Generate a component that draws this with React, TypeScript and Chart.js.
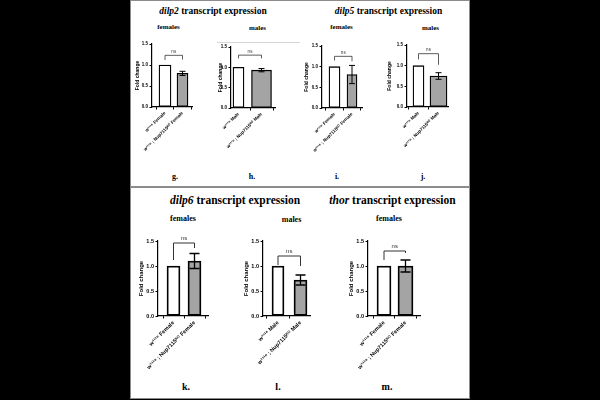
import React, { useEffect, useRef } from 'react';
import { Chart, registerables } from 'chart.js';
Chart.register(...registerables);

// ---------------- data ----------------
const panelLetters = ['g.', 'h.', 'i.', 'j.', 'k.', 'l.', 'm.'];
const sexes = ['Female', 'Male', 'Female', 'Male', 'Female', 'Male', 'Female'];
const controlGenotype = 'w¹¹¹⁸';
const mutantGenotype = 'w¹¹¹⁸ ; Nup7115ᴷᴼ';
const controlValues = [1, 1, 1, 1, 1, 1, 1];
const mutantValues = [0.8, 0.93, 0.81, 0.75, 1.1, 0.72, 1.0];
const mutantErrors = [0.05, 0.04, 0.22, 0.08, 0.15, 0.1, 0.12];
const sigLabels = ['ns', 'ns', 'ns', 'ns', 'ns', 'ns', 'ns'];
const bracketTop = [1.23, 1.3, 1.25, 1.29, 1.46, 1.2, 1.3];
const bracketLeftEnd = [1.12, 1.22, 1.15, 1.15, 1.12, 1.02, 1.12];
const bracketRightEnd = [1.13, 1.22, 1.13, 1.02, 1.36, 1.0, 1.26];
const yTickValues = [0, 0.5, 1.0, 1.5];
const yAxisTitle = 'Fold change';

const groupTitles = [
  { gene: 'dilp2', rest: ' transcript expression' },
  { gene: 'dilp5', rest: ' transcript expression' },
  { gene: 'dilp6', rest: ' transcript expression' },
  { gene: 'thor', rest: ' transcript expression' },
];
const subTitles = ['females', 'males', 'females', 'males', 'females', 'males', 'females'];

// ---------------- layout (pixels) ----------------
const LAYOUT = [
  { axisX: 152, yTop: 44, yBottom: 107, right: 192, titleX: 138, c1: 165, c2: 182.5, w1: 12, w2: 11, big: false },
  { axisX: 231, yTop: 47, yBottom: 108, right: 275, titleX: 221, c1: 238.5, c2: 261.5, w1: 11, w2: 20, big: false },
  { axisX: 322, yTop: 46, yBottom: 108, right: 362, titleX: 307, c1: 334.5, c2: 352, w1: 11, w2: 10, big: false },
  { axisX: 407, yTop: 45, yBottom: 107, right: 448, titleX: 390, c1: 418.5, c2: 438.5, w1: 11, w2: 17, big: false },
  { axisX: 158, yTop: 241, yBottom: 316, right: 208, titleX: 141, c1: 173.5, c2: 194.5, w1: 13, w2: 13, big: true },
  { axisX: 263, yTop: 241, yBottom: 316, right: 310, titleX: 246, c1: 278, c2: 300.5, w1: 12, w2: 13, big: true },
  { axisX: 368, yTop: 241, yBottom: 316, right: 420, titleX: 351, c1: 384, c2: 405.5, w1: 14, w2: 15, big: true },
];
const groupTitlePos = [
  { x: 213, y: 12, fs: 9.5 },
  { x: 388.5, y: 12, fs: 9.5 },
  { x: 235, y: 201, fs: 11.5 },
  { x: 392.5, y: 201, fs: 11.5 },
];
const subTitlePos = [
  { x: 168.5, y: 27, fs: 7 },
  { x: 257.5, y: 28, fs: 7 },
  { x: 341.5, y: 27, fs: 7 },
  { x: 430.5, y: 28, fs: 7 },
  { x: 183, y: 219, fs: 8 },
  { x: 291.5, y: 220, fs: 8 },
  { x: 389, y: 219, fs: 8 },
];
const letterPos = [
  { x: 175, y: 177, fs: 8 },
  { x: 252, y: 177, fs: 8 },
  { x: 337, y: 177, fs: 8 },
  { x: 423, y: 177, fs: 8 },
  { x: 186, y: 387, fs: 10 },
  { x: 278, y: 387, fs: 10 },
  { x: 387, y: 387, fs: 10 },
];

const PAD_TOP = 14;
const PAD_RIGHT = 6;
const X_AXIS_H = 62;
const SANS = 'Liberation Sans, Arial, sans-serif';
const SERIF = 'Liberation Serif, Times New Roman, serif';

function canvasBox(i: number) {
  const L = LAYOUT[i];
  const left = L.titleX - 8;
  const top = L.yTop - PAD_TOP;
  const width = L.right - left + PAD_RIGHT;
  const height = L.yBottom - L.yTop + PAD_TOP + X_AXIS_H;
  return { left, top, width, height };
}

function MiniChart({ idx }: { idx: number }) {
  const ref = useRef<HTMLCanvasElement | null>(null);
  const box = canvasBox(idx);
  useEffect(() => {
    const L = LAYOUT[idx];
    const fsTick = L.big ? 5.5 : 4.5;
    const fsTitle = L.big ? 6 : 5;
    const lw = L.big ? 1.3 : 1;
    const labels = [
      `${controlGenotype} ${sexes[idx]}`,
      `${mutantGenotype} ${sexes[idx]}`,
    ];
    const span = L.c2 - L.c1;
    const xMin = (L.axisX - L.c1) / span;
    const xMax = (L.right - L.c1) / span;
    const yW = L.axisX - box.left;
    const titlePad = 8 - 0.6 * fsTitle;

    const annot = {
      id: 'annot' + idx,
      afterDraw(chart: any) {
        const ctx = chart.ctx;
        const xs = chart.scales.x;
        const ys = chart.scales.y;
        ctx.save();
        ctx.strokeStyle = '#000';
        ctx.lineWidth = lw;
        // error bar on mutant bar
        const v = mutantValues[idx];
        const e = mutantErrors[idx];
        const xc = xs.getPixelForValue(1);
        const yHi = ys.getPixelForValue(v + e);
        const yLo = ys.getPixelForValue(v - e);
        const cap = L.big ? 5 : 3;
        ctx.beginPath();
        ctx.moveTo(xc, yHi);
        ctx.lineTo(xc, yLo);
        ctx.moveTo(xc - cap, yHi);
        ctx.lineTo(xc + cap, yHi);
        ctx.moveTo(xc - cap, yLo);
        ctx.lineTo(xc + cap, yLo);
        ctx.stroke();
        // significance bracket
        ctx.strokeStyle = '#333';
        ctx.lineWidth = L.big ? 1 : 0.8;
        const xl = xs.getPixelForValue(0);
        const xr = xs.getPixelForValue(1);
        const yt = ys.getPixelForValue(bracketTop[idx]);
        ctx.beginPath();
        ctx.moveTo(xl, ys.getPixelForValue(bracketLeftEnd[idx]));
        ctx.lineTo(xl, yt);
        ctx.lineTo(xr, yt);
        ctx.lineTo(xr, ys.getPixelForValue(bracketRightEnd[idx]));
        ctx.stroke();
        ctx.fillStyle = '#333';
        ctx.font = `${L.big ? 6 : 4.5}px ${SANS}`;
        ctx.textAlign = 'center';
        ctx.textBaseline = 'bottom';
        ctx.fillText(sigLabels[idx], (xl + xr) / 2, yt - 1.5);
        ctx.restore();
      },
    };

    const chart = new Chart(ref.current as HTMLCanvasElement, {
      type: 'bar',
      data: {
        datasets: [
          {
            data: [{ x: 0, y: controlValues[idx] }],
            backgroundColor: '#ffffff',
            borderColor: '#000',
            borderWidth: L.big ? 1.8 : 1.3,
            borderSkipped: false,
            barThickness: L.w1,
            grouped: false,
          } as any,
          {
            data: [{ x: 1, y: mutantValues[idx] }],
            backgroundColor: '#a4a4a4',
            borderColor: '#000',
            borderWidth: L.big ? 1.8 : 1.3,
            borderSkipped: false,
            barThickness: L.w2,
            grouped: false,
          } as any,
        ],
      },
      options: {
        animation: false,
        responsive: false,
        devicePixelRatio: 1,
        layout: { padding: { top: PAD_TOP, right: PAD_RIGHT, left: 0, bottom: 0 } },
        plugins: { legend: { display: false }, tooltip: { enabled: false }, title: { display: false } },
        scales: {
          x: {
            type: 'linear',
            min: xMin,
            max: xMax,
            offset: false,
            afterBuildTicks: (s: any) => {
              s.ticks = [{ value: 0 }, { value: 1 }];
            },
            afterFit: (s: any) => {
              s.height = X_AXIS_H;
              s.paddingLeft = 0;
              s.paddingRight = 0;
            },
            ticks: {
              callback: (v: any) => labels[Math.round(Number(v))],
              minRotation: 45,
              maxRotation: 45,
              autoSkip: false,
              color: '#000',
              padding: 1,
              font: { size: fsTick, weight: 'bold', family: SANS },
            },
            grid: { display: true, drawOnChartArea: false, drawTicks: true, tickLength: 2.5, color: '#000', lineWidth: 1 },
            border: { display: true, color: '#000', width: 1.2 },
          },
          y: {
            min: 0,
            max: 1.5,
            afterBuildTicks: (s: any) => {
              s.ticks = yTickValues.map((v) => ({ value: v }));
            },
            afterFit: (s: any) => {
              s.width = yW;
              s.paddingTop = 0;
              s.paddingBottom = 0;
            },
            ticks: {
              callback: (v: any) => Number(v).toFixed(1),
              color: '#000',
              padding: 1.5,
              font: { size: fsTick, weight: 'bold', family: SANS },
            },
            grid: { display: true, drawOnChartArea: false, drawTicks: true, tickLength: 2.5, color: '#000', lineWidth: 1 },
            border: { display: true, color: '#000', width: 1.2 },
            title: {
              display: true,
              text: yAxisTitle,
              color: '#000',
              font: { size: fsTitle, weight: 'bold', family: SANS },
              padding: { top: titlePad, bottom: 0 },
            },
          },
        },
      } as any,
      plugins: [annot],
    });
    return () => chart.destroy();
  }, [idx]);
  return (
    <canvas
      ref={ref}
      width={box.width}
      height={box.height}
      style={{ position: 'absolute', left: box.left, top: box.top, width: box.width, height: box.height }}
    />
  );
}

const centered = (x: number, y: number, fs: number, extra: any = {}) => ({
  position: 'absolute' as const,
  left: x,
  top: y,
  transform: 'translate(-50%, -50%)',
  fontSize: fs,
  lineHeight: 1,
  whiteSpace: 'nowrap' as const,
  fontFamily: SERIF,
  fontWeight: 'bold' as const,
  color: '#000',
  ...extra,
});

export default function App() {
  return (
    <div style={{ position: 'fixed', left: 0, top: 0, width: 600, height: 400, background: '#000', overflow: 'hidden' }}>
      <div
        style={{
          position: 'absolute',
          left: 130,
          top: 0,
          width: 340,
          height: 399,
          background: '#fff',
          border: '1px solid #8c8c8c',
          boxSizing: 'border-box',
        }}
      />
      <div style={{ position: 'absolute', left: 130, top: 186, width: 340, height: 2, background: '#8c8c8c' }} />
      <div style={{ position: 'absolute', left: 217, top: 42, width: 83, height: 1, background: '#d8d8d8' }} />
      {groupTitles.map((g, i) => (
        <div key={'gt' + i} style={centered(groupTitlePos[i].x, groupTitlePos[i].y, groupTitlePos[i].fs)}>
          <i>{g.gene}</i>
          {g.rest}
        </div>
      ))}
      {subTitles.map((s, i) => (
        <div key={'st' + i} style={centered(subTitlePos[i].x, subTitlePos[i].y, subTitlePos[i].fs)}>
          {s}
        </div>
      ))}
      {panelLetters.map((s, i) => (
        <div key={'pl' + i} style={centered(letterPos[i].x, letterPos[i].y, letterPos[i].fs)}>
          {s}
        </div>
      ))}
      {LAYOUT.map((_, i) => (
        <MiniChart key={i} idx={i} />
      ))}
    </div>
  );
}
